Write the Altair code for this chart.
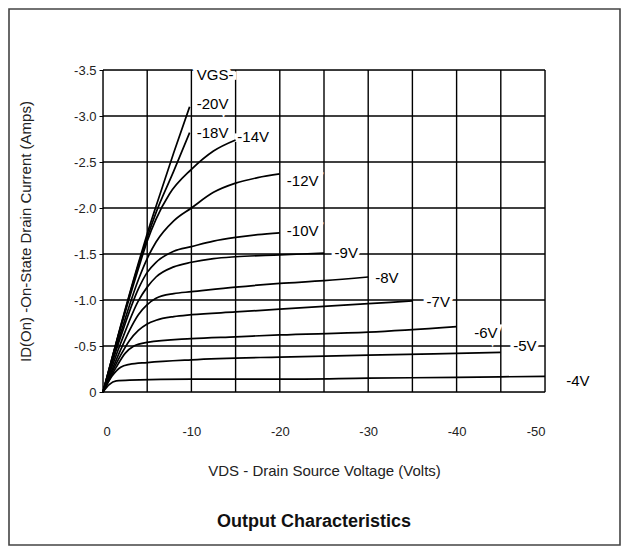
import altair as alt
import pandas as pd

# ---- Curve data: VDS (volts) and ID(on) (amps) for each VGS ----
vds_m20 = [0, -2, -4, -5, -6, -8, -9.8]
id_m20 = [0, -0.72, -1.40, -1.72, -2.02, -2.60, -3.10]
vds_m18 = [0, -2, -4, -5, -6, -8, -9.8]
id_m18 = [0, -0.71, -1.38, -1.68, -1.95, -2.40, -2.82]
vds_m14 = [0, -2, -4, -5, -6, -7.5, -10, -12.5, -15]
id_m14 = [0, -0.70, -1.34, -1.64, -1.88, -2.15, -2.42, -2.62, -2.74]
vds_m12 = [0, -2, -4, -5, -6, -8, -10, -12.5, -15, -17.5, -20]
id_m12 = [0, -0.64, -1.22, -1.45, -1.63, -1.86, -2.00, -2.17, -2.27, -2.33, -2.37]
vds_m10 = [0, -2, -4, -5, -6, -8, -10, -12.5, -15, -17.5, -20]
id_m10 = [0, -0.60, -1.12, -1.30, -1.41, -1.53, -1.58, -1.64, -1.68, -1.71, -1.73]
vds_m9 = [0, -2, -4, -5, -6, -8, -10, -12.5, -15, -20, -25]
id_m9 = [0, -0.53, -0.99, -1.14, -1.25, -1.36, -1.41, -1.45, -1.47, -1.49, -1.51]
vds_m8 = [0, -2, -3, -4, -5, -6, -8, -10, -15, -20, -25, -30]
id_m8 = [0, -0.46, -0.67, -0.84, -0.95, -1.02, -1.07, -1.09, -1.14, -1.18, -1.21, -1.25]
vds_m7 = [0, -2, -3, -4, -5, -6, -8, -10, -15, -20, -30, -35]
id_m7 = [0, -0.40, -0.56, -0.67, -0.74, -0.78, -0.82, -0.84, -0.87, -0.90, -0.96, -0.99]
vds_m6 = [0, -1.5, -2.5, -3.5, -5, -10, -15, -20, -30, -40]
id_m6 = [0, -0.27, -0.42, -0.50, -0.54, -0.58, -0.60, -0.62, -0.65, -0.71]
vds_m5 = [0, -1, -2, -3, -5, -10, -20, -30, -45]
id_m5 = [0, -0.17, -0.27, -0.30, -0.32, -0.35, -0.38, -0.40, -0.43]
vds_m4 = [0, -0.7, -1.5, -3, -10, -20, -30, -40, -50]
id_m4 = [0, -0.08, -0.12, -0.13, -0.14, -0.14, -0.15, -0.16, -0.17]

vgs_names = ["-20V", "-18V", "-14V", "-12V", "-10V", "-9V", "-8V", "-7V", "-6V", "-5V", "-4V"]
curve_vds = [vds_m20, vds_m18, vds_m14, vds_m12, vds_m10, vds_m9, vds_m8, vds_m7, vds_m6, vds_m5, vds_m4]
curve_id = [id_m20, id_m18, id_m14, id_m12, id_m10, id_m9, id_m8, id_m7, id_m6, id_m5, id_m4]

# label anchors (data units)
label_text = ["VGS-", "-20V", "-18V", "-14V", "-12V", "-10V", "-9V", "-8V", "-7V", "-6V", "-5V", "-4V"]
label_vds = [-10.6, -10.6, -10.6, -15.2, -20.8, -20.8, -26.2, -30.8, -36.6, -42.0, -46.4, -52.4]
label_id = [-3.45, -3.13, -2.81, -2.77, -2.29, -1.75, -1.51, -1.24, -0.98, -0.64, -0.50, -0.12]

# axis values
x_grid = [0, -5, -10, -15, -20, -25, -30, -35, -40, -45, -50]
y_grid = [0, -0.5, -1.0, -1.5, -2.0, -2.5, -3.0, -3.5]
x_labels = [0, -10, -20, -30, -40, -50]

rows = []
for name, vs, cs in zip(vgs_names, curve_vds, curve_id):
    for i, (v, c) in enumerate(zip(vs, cs)):
        rows.append({"vgs": name, "vds": v, "id": c, "idx": i})
curves = pd.DataFrame(rows)
labels = pd.DataFrame({"text": label_text, "vds": label_vds, "id": label_id})
xg = pd.DataFrame({"vds": x_grid})
yg = pd.DataFrame({"id": y_grid})

FONT = "Liberation Sans"
W, H = 442, 322

xscale = alt.Scale(domain=[0, -50], nice=False, zero=False)
yscale = alt.Scale(domain=[0, -3.5], nice=False, zero=False)

xaxis = alt.Axis(values=x_labels, grid=False, ticks=False, domain=False,
                 labelPadding=33, labelFontSize=13, labelColor="#222", labelFont=FONT,
                 labelExpr="datum.value == 0 ? '0' : '-' + abs(datum.value)",
                 title="VDS - Drain Source Voltage (Volts)", titleFont=FONT,
                 titleFontSize=15, titleFontWeight="normal", titleColor="#222", titlePadding=25)
yaxis = alt.Axis(values=y_grid, grid=False, ticks=True, tickSize=4, tickColor="black",
                 domain=False, labelPadding=3, labelFontSize=13, labelColor="#222",
                 labelFont=FONT,
                 labelExpr="datum.value == 0 ? '0' : '-' + format(abs(datum.value), '.1f')",
                 title="ID(On) -On-State Drain Current (Amps)", titleFont=FONT,
                 titleFontSize=15, titleFontWeight="normal", titleColor="#222", titlePadding=40)

vrules = alt.Chart(xg).mark_rule(color="black", strokeWidth=1.4).encode(
    x=alt.X("vds:Q", scale=xscale, axis=xaxis))
hrules = alt.Chart(yg).mark_rule(color="black", strokeWidth=1.4).encode(
    y=alt.Y("id:Q", scale=yscale, axis=yaxis))

halo = alt.Chart(labels).mark_text(align="left", baseline="middle", font=FONT, fontSize=15,
                                   fill="white", stroke="white", strokeWidth=7).encode(
    x=alt.X("vds:Q", scale=xscale), y=alt.Y("id:Q", scale=yscale), text="text:N")

lines = alt.Chart(curves).mark_line(color="black", strokeWidth=1.7, interpolate="monotone").encode(
    x=alt.X("vds:Q", scale=xscale), y=alt.Y("id:Q", scale=yscale),
    detail="vgs:N", order="idx:Q")

texts = alt.Chart(labels).mark_text(align="left", baseline="middle", font=FONT, fontSize=15,
                                    color="black").encode(
    x=alt.X("vds:Q", scale=xscale), y=alt.Y("id:Q", scale=yscale), text="text:N")

frame = alt.Chart(pd.DataFrame({"a": [1]})).mark_rect(
    fill="transparent", stroke="#444", strokeWidth=1.6).encode(
    x=alt.value(-94), x2=alt.value(517), y=alt.value(-61), y2=alt.value(475))

chart = alt.layer(frame, vrules, hrules, halo, lines, texts).properties(
    width=W, height=H,
    padding={"left": 95, "top": 62, "right": 76, "bottom": 154},
    autosize=alt.AutoSizeParams(type="none"),
    title=alt.TitleParams("Output Characteristics", orient="bottom", anchor="middle",
                          frame="group", font=FONT, fontSize=18, fontWeight="bold",
                          color="#111", offset=-33, dx=-10),
).configure_view(stroke=None).configure(background="white")

chart.save("out.html", embed_options={"renderer": "svg", "actions": False})
